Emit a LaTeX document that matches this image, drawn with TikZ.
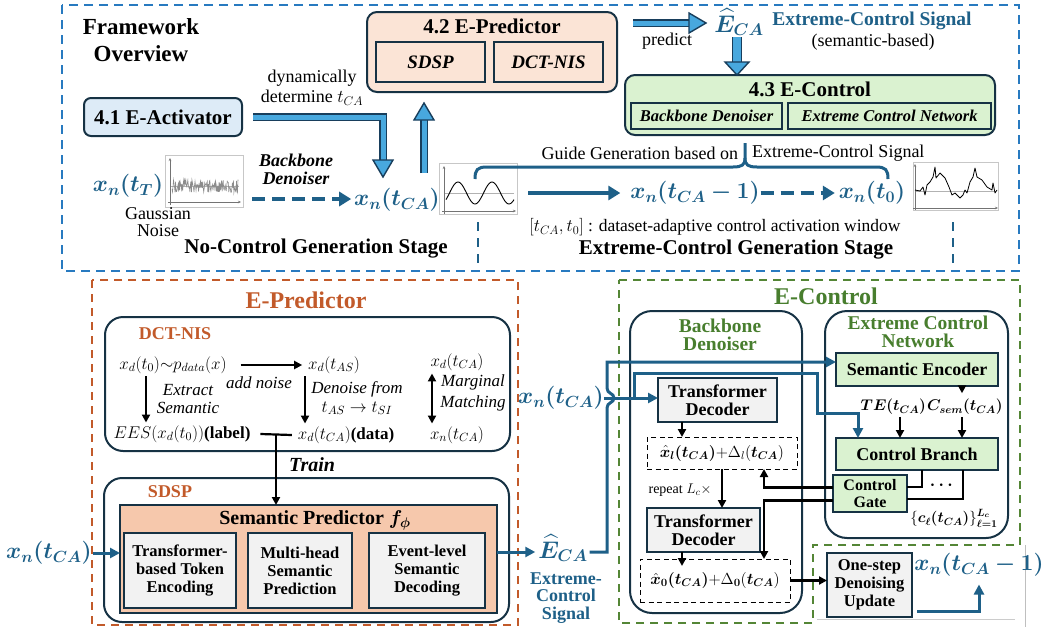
\RequirePackage{fix-cm}
\documentclass[tikz,border=0pt]{standalone}
\usepackage{amsmath}
\usepackage{bm}
\usepackage{fontspec}
\setmainfont{Liberation Serif}
\usetikzlibrary{arrows.meta}
\definecolor{ctl}{RGB}{30,96,136}
\definecolor{cdark}{RGB}{22,50,68}
\definecolor{cframe}{RGB}{40,122,192}
\definecolor{cfat}{RGB}{72,168,222}
\definecolor{cfatdark}{RGB}{24,62,92}
\definecolor{cact}{RGB}{221,235,247}
\definecolor{cpeach}{RGB}{251,228,214}
\definecolor{cpeachb}{RGB}{246,200,172}
\definecolor{cgfill}{RGB}{218,242,208}
\definecolor{cgtext}{RGB}{72,126,46}
\definecolor{cgdash}{RGB}{84,134,54}
\definecolor{corg}{RGB}{194,90,42}
\definecolor{cgrayf}{RGB}{242,242,242}
\newcommand{\fsz}[2]{\fontsize{#1}{#2}\selectfont}
\newcommand{\fathead}[4]{\begin{scope}[shift={#1},rotate=#2]\filldraw[fill=cfat,draw=cfatdark,line width=1.4pt,line join=miter] (0,0) -- (-#3,#4) -- (-#3,-#4) -- cycle;\end{scope}}
\tikzset{
  every node/.style={inner sep=0pt,outer sep=0pt},
  box/.style={draw=cdark,line width=2pt,align=center},
  fatline/.style={draw=cfatdark,double=cfat,double distance=5pt,line width=1.4pt,line join=miter},
  tarrow/.style={draw=ctl,line width=4.5pt,-{Triangle[length=12pt,width=14pt]}},
  tdash/.style={dash pattern=on 13pt off 7pt},
  blk/.style={draw=black,line width=2.2pt,-{Triangle[length=8pt,width=8pt]}},
  blkline/.style={draw=black,line width=2.2pt},
  tline/.style={draw=ctl,line width=3pt,line join=miter},
  tarr/.style={tline,-{Triangle[length=10pt,width=10pt]}},
  dbox/.style={draw=black,line width=1pt,dash pattern=on 5pt off 3.5pt},
  plotbox/.style={draw=black!22,line width=0.8pt,fill=white},
  plotaxis/.style={draw=black!55,line width=0.5pt,-{Stealth[length=3pt,width=2.5pt]}},
  sep/.style={draw=ctl,line width=2pt,dash pattern=on 9pt off 7pt}
}
\begin{document}
\begin{tikzpicture}[x=1pt,y=-1pt]
\useasboundingbox (0,0) rectangle (1042,627);
% ================= TOP: framework overview =================
\draw[cframe,line width=2.2pt,dash pattern=on 9pt off 6pt] (62,5) rectangle (1019,271);
\node[font=\fsz{23}{27}\bfseries,align=center] (fw) at (141,40) {Framework\\Overview};
\node[box,fill=cact,rounded corners=7pt,minimum width=158pt,minimum height=38pt,font=\fsz{21}{24}\bfseries] (act) at (163,117) {4.1 E-Activator};
\node[font=\fsz{18}{20},align=center] (dyn) at (312,88) {dynamically\\determine $t_{CA}$};
% 4.2 E-Predictor
\node[box,fill=cpeach,rounded corners=10pt,minimum width=250pt,minimum height=80pt] (ep) at (492,52) {};
\node[font=\fsz{21}{24}\bfseries] (eptitle) at (492,26) {4.2 E-Predictor};
\node[box,fill=cpeach,minimum width=109pt,minimum height=40pt,font=\fsz{19}{21}\bfseries\itshape] (sdspA) at (430.5,62) {SDSP};
\node[box,fill=cpeach,minimum width=109pt,minimum height=40pt,font=\fsz{19}{21}\bfseries\itshape] (dctA) at (548.5,62) {DCT-NIS};
% predict
\node[font=\fsz{18}{20}] (pred) at (667,41) {predict};
\node[text=ctl,font=\fsz{24}{26}] (ehat) at (739,22) {$\widehat{\bm{E}}_{\bm{CA}}$};
\node[text=ctl,font=\fsz{19.5}{22}\bfseries] (ecs) at (872,21) {Extreme-Control Signal};
\node[font=\fsz{18}{20}] (sb) at (873,42) {(semantic-based)};
% 4.3 E-Control
\node[box,fill=cgfill,rounded corners=10pt,minimum width=370pt,minimum height=60pt] (ec) at (810,105) {};
\node[font=\fsz{21}{24}\bfseries] (ectitle) at (810,89) {4.3 E-Control};
\node[box,fill=cgfill,minimum width=151pt,minimum height=26pt,font=\fsz{16.5}{18}\bfseries\itshape] (bdA) at (706.5,116) {Backbone Denoiser};
\node[box,fill=cgfill,minimum width=203pt,minimum height=26pt,font=\fsz{16.5}{18}\bfseries\itshape] (ecnA) at (889.5,116) {Extreme Control Network};
% fat arrows
\coordinate (k1) at (383,160);
\draw[fatline] ([xshift=11pt]act.east) -| (k1);
\fathead{(383,177)}{-90}{17}{10}
\coordinate (u1) at (424,173);
\coordinate (u2) at (424,119);
\draw[fatline] (u1) -- (u2);
\fathead{(424,103)}{90}{17}{10}
\coordinate (p1) at (633,23);
\coordinate (p2) at (690,23);
\draw[fatline] (p1) -- (p2);
\fathead{(706,23)}{0}{17}{10}
\coordinate (q1) at (737,37);
\coordinate (q2) at (737,63);
\draw[fatline,double distance=8pt] (q1) -- (q2);
\fathead{(737,75)}{-90}{13}{12}
% generation line
\node[text=ctl,font=\fsz{23}{25}] (xT) at (128,186) {$\bm{x_n(t_T)}$};
\node[plotbox,minimum width=78pt,minimum height=52pt] (noise) at (204,181) {};
\draw[plotaxis] (170,205) -- (170,158);
\draw[plotaxis] (168,202) -- (241,202);
\draw[black!30,line width=0.6pt] (171,186) -- (239,186);
\pgfmathsetseed{12}
\draw[black!45,line width=0.6pt] plot[domain=172:238,samples=130] (\x,{186+6.5*rand});
\node[font=\fsz{18}{17.5},align=center] (gn) at (158,222) {Gaussian\\Noise};
\node[font=\fsz{18}{18}\bfseries\itshape,align=center] (bbd) at (296,169) {Backbone\\Denoiser};
\node[text=ctl,font=\fsz{23}{25}] (xCA) at (397,200) {$\bm{x_n(t_{CA})}$};
\node[plotbox,minimum width=78pt,minimum height=51pt] (sine) at (478,188.5) {};
\draw[plotaxis] (444,214) -- (444,166);
\draw[plotaxis] (442,211) -- (516,211);
\draw[black!30,line width=0.8pt] (445,193) -- (514,193);
\draw[black,line width=0.9pt] plot[domain=446:514,samples=60,smooth] (\x,{193-11*sin(10.588*(\x-449.5))});
\node[text=ctl,font=\fsz{23}{25}] (xCA1) at (695,193) {$\bm{x_n(t_{CA}-1)}$};
\node[text=ctl,font=\fsz{23}{25}] (x0) at (872,193) {$\bm{x_n(t_0)}$};
\node[plotbox,minimum width=85pt,minimum height=48pt] (spiky) at (955.5,186) {};
\draw[plotaxis] (915,210) -- (915,164);
\draw[plotaxis] (913,208) -- (998,208);
\draw[black!30,line width=0.8pt] (916,191) -- (996,191);
\draw[black,line width=0.8pt,line join=round] (915,190) -- (920,191) -- (923,187) -- (925,195) -- (927,185) -- (930,182) -- (933,177) -- (935,167) -- (936,178) -- (940,173) -- (945,178) -- (949,187) -- (952,195) -- (955,193) -- (960,198) -- (963,195) -- (965,190) -- (967,193) -- (970,182) -- (973,177) -- (975,168) -- (977,177) -- (982,180) -- (987,187) -- (992,190) -- (993,183) -- (995,193) -- (997,190);
% generation arrows
\coordinate (da1) at (252,199);
\draw[tarrow,tdash,shorten >=3pt] (da1) -- (da1 -| xCA.west);
\coordinate (sa1) at (528,193);
\draw[tarrow,shorten >=10pt] (sa1) -- (sa1 -| xCA1.west);
\draw[tarrow,tdash,shorten >=4pt] ([xshift=1pt]xCA1.east) -- (x0.west);
% brace
\draw[ctl,line width=3pt] (475,179) .. controls (475,170) and (477,167) .. (487,167) -- (733,167) .. controls (742,167) and (745,165) .. (745,158) -- (745,143);
\draw[ctl,line width=3pt] (745,158) .. controls (745,165) and (748,167) .. (757,167) -- (876,167) .. controls (886,167) and (888,170) .. (888,179);
\node[font=\fsz{18}{20},anchor=east] (gg1) at (738,153) {Guide Generation based on};
\node[font=\fsz{18}{20},anchor=west] (gg2) at (752,153) {Extreme-Control Signal};
\node[font=\fsz{17.5}{20}] (win) at (715,227) {$[t_{CA},t_0]$ : dataset-adaptive control activation window};
\node[font=\fsz{21}{24}\bfseries] (ncg) at (316,249) {No-Control Generation Stage};
\node[font=\fsz{21}{24}\bfseries] (ecg) at (736,250) {Extreme-Control Generation Stage};
\draw[sep] (478,222) -- (478,269);
\draw[sep] (953,222) -- (953,269);
% ================= BOTTOM LEFT: E-Predictor =================
\draw[corg,line width=2pt,dash pattern=on 8pt off 6pt] (92,280) rectangle (518,625);
\node[text=corg,font=\fsz{24}{26}\bfseries] (eptitle2) at (306,300) {E-Predictor};
\node[box,rounded corners=18pt,minimum width=405pt,minimum height=134pt] (dct) at (307.5,384) {};
\node[text=corg,font=\fsz{18}{20}\bfseries] (dctlab) at (175,334) {DCT-NIS};
\node[font=\fsz{17}{19}] (d1) at (173,365) {$x_d(t_0){\sim}p_{data}(x)$};
\node[font=\fsz{17}{19}] (d2) at (334,365) {$x_d(t_{AS})$};
\node[font=\fsz{17}{19}] (d3) at (457,362) {$x_d(t_{CA})$};
\node[font=\fsz{17}{19}] (d4) at (182,434) {$EES(x_d(t_0))$\textbf{(label)}};
\node[font=\fsz{17}{19}] (d5) at (346,435) {$x_d(t_{CA})$\textbf{(data)}};
\node[font=\fsz{17}{19}] (d6) at (457,435) {$x_n(t_{CA})$};
\node[font=\fsz{17}{19}\itshape] (an) at (259,383) {add noise};
\node[font=\fsz{17}{18}\itshape,align=center] (exs) at (188,399) {Extract\\Semantic};
\node[font=\fsz{17}{19}\itshape,align=center] (dnf) at (357,398) {Denoise from\\$t_{AS}\rightarrow t_{SI}$};
\node[font=\fsz{17}{21}\itshape,align=center] (mm) at (473,393) {Marginal\\Matching};
\draw[blk,line width=2pt] ([xshift=14pt]d1.east) -- ([xshift=-6pt]d2.west);
\coordinate (ex) at (146,0);
\coordinate (dn) at (305,0);
\coordinate (mg) at (432,0);
\draw[blk,line width=2pt,shorten <=3pt,shorten >=3pt] (d1.south -| ex) -- (d4.north -| ex);
\draw[blk,line width=2pt,shorten <=3pt,shorten >=3pt] (d2.south -| dn) -- (d5.north -| dn);
\draw[line width=2pt,{Triangle[length=8pt,width=8pt]}-{Triangle[length=8pt,width=8pt]},shorten <=3pt,shorten >=3pt] (d3.south -| mg) -- (d6.north -| mg);
\draw[blkline] ([xshift=10pt]d4.east) -- ([xshift=-6pt]d5.west);
\node[font=\fsz{20}{22}\bfseries\itshape] (train) at (312,465) {Train};
% SDSP
\node[box,rounded corners=18pt,minimum width=405pt,minimum height=144pt] (sdsp) at (306.5,550) {};
\node[text=corg,font=\fsz{18}{20}\bfseries] (sdsplab) at (170,492) {SDSP};
\node[box,line width=2.5pt,fill=cpeachb,minimum width=377pt,minimum height=108pt] (sp) at (308.5,559) {};
\node[font=\fsz{20}{22}\bfseries] (sptitle) at (315,520) {Semantic Predictor $\bm{f_{\phi}}$};
\node[box,fill=cgrayf,minimum width=112pt,minimum height=75pt,font=\fsz{16.5}{18}\bfseries] (b1) at (180,570.5) {Transformer-\\based Token\\Encoding};
\node[box,fill=cgrayf,minimum width=104pt,minimum height=75pt,font=\fsz{16.5}{18}\bfseries] (b2) at (300,570.5) {Multi-head\\Semantic\\Prediction};
\node[box,fill=cgrayf,minimum width=116pt,minimum height=75pt,font=\fsz{16.5}{18}\bfseries] (b3) at (427,570.5) {Event-level\\Semantic\\Decoding};
\coordinate (tj) at (276,0);
\draw[blk] (d4.east -| tj) -- (sp.north -| tj);
\node[text=ctl,font=\fsz{23}{25}] (xl) at (49,553) {$\bm{x_n(t_{CA})}$};
\draw[tarr] ([xshift=1pt]xl.east) -- (xl.east -| sp.west);
\node[text=ctl,font=\fsz{24}{26}] (e2) at (563,548) {$\widehat{\bm{E}}_{\bm{CA}}$};
\coordinate (ea) at (0,552);
\draw[tarr] (sp.east |- ea) -- ([xshift=-3pt]e2.west |- ea);
\node[text=ctl,font=\fsz{18}{17.5}\bfseries,align=center] (ecs2) at (566,598) {Extreme-\\Control\\Signal};
% ================= BOTTOM RIGHT: E-Control =================
\draw[cgdash,line width=2pt,dash pattern=on 8pt off 6pt] (619,280) -- (1020,280) -- (1020,545) -- (813,545) -- (813,623) -- (619,623) -- cycle;
\draw[black!25,line width=0.8pt] (1025,545) -- (1025,627);
\draw[black!20,line width=0.8pt] (817,619) -- (1015,619);
\node[text=cgtext,font=\fsz{24}{26}\bfseries] (ectitle2) at (826,296) {E-Control};
\node[box,rounded corners=22pt,minimum width=172pt,minimum height=302pt] (bd) at (716,462) {};
\node[text=cgtext,font=\fsz{19.5}{18}\bfseries,align=center] (bdlab) at (720,335) {Backbone\\Denoiser};
\node[box,rounded corners=22pt,minimum width=183pt,minimum height=227pt] (ecn) at (916.5,424.5) {};
\node[text=cgtext,font=\fsz{19.5}{18}\bfseries,align=center] (ecnlab) at (918,332) {Extreme Control\\Network};
\node[box,fill=cgfill,minimum width=162pt,minimum height=33pt,font=\fsz{18}{20}\bfseries] (se) at (917,369.5) {Semantic Encoder};
\node[font=\fsz{15.5}{17},anchor=east] (te) at (926,407) {$\bm{TE(t_{CA})}$};
\node[font=\fsz{15.5}{17},anchor=west] (cs) at (927,407) {$\bm{C_{sem}(t_{CA})}$};
\node[box,fill=cgfill,minimum width=162pt,minimum height=32pt,font=\fsz{18}{20}\bfseries] (cb) at (917,454) {Control Branch};
\node[box,fill=cgfill,minimum width=74pt,minimum height=37pt,font=\fsz{16}{16.5}\bfseries] (cg) at (870,493.5) {Control\\Gate};
\node[font=\fsz{17}{19}] (dots) at (943,485) {$\bm{\cdots}$};
\node[font=\fsz{15}{17}] (cl) at (954,518) {$\{\bm{c_{\ell}(t_{CA})}\}_{\bm{\ell=1}}^{\bm{L_c}}$};
\node[box,fill=cgrayf,minimum width=119pt,minimum height=44pt,font=\fsz{18}{17.5}\bfseries] (td1) at (717.5,400) {Transformer\\Decoder};
\node[dbox,minimum width=150pt,minimum height=32pt,font=\fsz{16}{18}] (dl) at (722,453) {$\bm{\hat{x}_{l}(t_{CA})}{+}\Delta_{l}(\bm{t_{CA}})$};
\node[font=\fsz{14}{16}] (rep) at (680,490) {repeat $L_c\times$};
\node[box,fill=cgrayf,minimum width=113pt,minimum height=44pt,font=\fsz{18}{17.5}\bfseries] (td2) at (703.5,530) {Transformer\\Decoder};
\node[dbox,minimum width=150pt,minimum height=43pt,font=\fsz{16}{18}] (d0) at (715,580.5) {\raisebox{-3pt}{$\bm{\hat{x}_{0}(t_{CA})}{+}\Delta_{\bm{0}}(\bm{t_{CA}})$}};
\node[box,fill=cgrayf,minimum width=85pt,minimum height=64pt,font=\fsz{16.5}{18}\bfseries] (os) at (869.5,585) {One-step\\Denoising\\Update};
\node[text=ctl,font=\fsz{23}{25}] (xr) at (979,565) {$\bm{x_n(t_{CA}-1)}$};
\node[text=ctl,font=\fsz{23}{25}] (xm) at (561,398) {$\bm{x_n(t_{CA})}$};
% black connectors
\coordinate (c1) at (682,0);
\coordinate (c2) at (722,0);
\draw[blk] (td1.south -| c1) -- (dl.north -| c1);
\draw[blk] (dl.south -| c2) -- (td2.north -| c2);
\draw[blk,shorten >=-7pt] (td2.south -| c1) -- (d0.north -| c1);
\draw[blk] (d0.east) -- (d0.east -| os.west);
\coordinate (se1) at (962,0);
\draw[blk] (se.south -| se1) -- ([yshift=6pt]cs.north -| se1);
\coordinate (te1) at (900,0);
\draw[blk] ([yshift=-2pt]te.south -| te1) -- (cb.north -| te1);
\draw[blk] ([yshift=-2pt]cs.south -| se1) -- (cb.north -| se1);
\coordinate (g1) at (922,0);
\coordinate (g2) at (963,0);
\draw[blkline] (cb.south -| g1) |- ([yshift=6.5pt]cg.east);
\draw[blkline] (cb.south -| g2) |- ([yshift=-5.5pt]cg.east);
\coordinate (g3) at (764,0);
\draw[blk] ([yshift=6pt]cg.west) -| (dl.south -| g3);
\draw[blk] ([yshift=-7pt]cg.west) -| (d0.north -| g3);
% teal connectors
\draw[tarr] (xm.east) -- (xm.east -| td1.west);
\coordinate (t1) at (634,373);
\coordinate (t2) at (817,413);
\coordinate (t3) at (858,0);
\draw[tarr] (t1 |- xm.east) -- (t1) -| (t2) -| (cb.north -| t3);
\coordinate (h1) at (607,408);
\coordinate (h2) at (607,388);
\coordinate (h3) at (607,362);
\draw[tarr] ([xshift=2pt]e2.east |- ea) -| (h1) .. controls +(0,-6) and +(0,5) .. (614,398) .. controls +(0,-5) and +(0,6) .. (h2) -- (h3) -- (h3 -| se.west);
\coordinate (r1) at (979,0);
\draw[tarr,shorten <=5pt,shorten >=8pt] ([yshift=-26pt]os.east) -| (xr.south -| r1);
\end{tikzpicture}
\end{document}
